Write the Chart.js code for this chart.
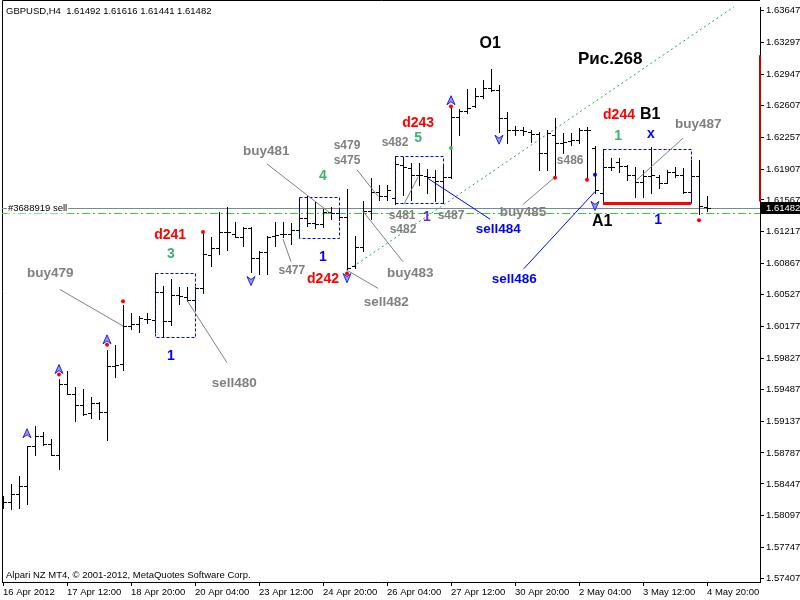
<!DOCTYPE html>
<html>
<head>
<meta charset="utf-8">
<script src="https://cdn.jsdelivr.net/npm/chart.js@4.4.1/dist/chart.umd.min.js"></script>
<style>
  html, body { margin: 0; padding: 0; background: #fff; }
</style>
</head>
<body>
<canvas id="chart" width="800" height="600"></canvas>
<script>
// GBPUSD H4, bars from 16 Apr 2012 04:00 to 4 May 2012 20:00 (index 0..88)
const opens = [
  1.58260, 1.58249, 1.58336, 1.58423, 1.58868, 1.58977, 1.58890, 1.58770, 1.59541, 1.59433,
  1.59313, 1.59227, 1.59335, 1.59237, 1.59748, 1.59770, 1.60182, 1.60204, 1.60258, 1.60247,
  1.60551, 1.60237, 1.60519, 1.60497, 1.60465, 1.60595, 1.60964, 1.61040, 1.61214, 1.61192,
  1.61160, 1.61257, 1.60932, 1.60997, 1.61170, 1.61192, 1.61192, 1.61236, 1.61366, 1.61312,
  1.61301, 1.61431, 1.61420, 1.61377, 1.60845, 1.61051, 1.61442, 1.61659, 1.61616, 1.61594,
  1.61952, 1.61920, 1.61844, 1.61833, 1.61822, 1.61779, 1.61822, 1.62474, 1.62550, 1.62604,
  1.62713, 1.62800, 1.62778, 1.62463, 1.62333, 1.62333, 1.62311, 1.62289, 1.62083, 1.62278,
  1.62191, 1.62213, 1.62224, 1.62333, 1.62137, 1.61648, 1.61931, 1.61985, 1.61941, 1.61844,
  1.61768, 1.61833, 1.61822, 1.61757, 1.61876, 1.61844, 1.61659, 1.61833, 1.61492
];
const highs = [
  1.58314, 1.58445, 1.58532, 1.58868, 1.59085, 1.59020, 1.58944, 1.59596, 1.59683, 1.59509,
  1.59487, 1.59400, 1.59346, 1.59922, 1.59976, 1.60410, 1.60323, 1.60291, 1.60323, 1.60769,
  1.60627, 1.60704, 1.60606, 1.60606, 1.60606, 1.61192, 1.61160, 1.61431, 1.61485, 1.61323,
  1.61268, 1.61268, 1.61008, 1.61170, 1.61323, 1.61323, 1.61312, 1.61594, 1.61616, 1.61540,
  1.61464, 1.61485, 1.61464, 1.61692, 1.61170, 1.61551, 1.61811, 1.61735, 1.61735, 1.62050,
  1.62039, 1.61974, 1.61974, 1.61909, 1.61898, 1.61952, 1.62582, 1.62571, 1.62789, 1.62800,
  1.62886, 1.63006, 1.62832, 1.62539, 1.62376, 1.62365, 1.62333, 1.62311, 1.62333, 1.62463,
  1.62300, 1.62300, 1.62354, 1.62365, 1.62159, 1.62126, 1.62028, 1.62028, 1.61952, 1.61931,
  1.61898, 1.62148, 1.61844, 1.61898, 1.61931, 1.61920, 1.62007, 1.62007, 1.61616
];
const lows = [
  1.58184, 1.58173, 1.58184, 1.58227, 1.58770, 1.58879, 1.58770, 1.58608, 1.59433, 1.59140,
  1.59205, 1.59172, 1.59161, 1.58933, 1.59618, 1.59694, 1.60150, 1.60117, 1.60215, 1.60117,
  1.60074, 1.60193, 1.60421, 1.60454, 1.60367, 1.60541, 1.60845, 1.60975, 1.61018, 1.61160,
  1.61062, 1.60779, 1.60758, 1.60758, 1.61062, 1.61160, 1.61084, 1.61160, 1.61279, 1.61257,
  1.61268, 1.61355, 1.61344, 1.60812, 1.60823, 1.61008, 1.61355, 1.61572, 1.61572, 1.61518,
  1.61627, 1.61572, 1.61735, 1.61648, 1.61551, 1.61529, 1.61811, 1.62278, 1.62528, 1.62593,
  1.62691, 1.62767, 1.62311, 1.62191, 1.62278, 1.62278, 1.62202, 1.61898, 1.61898, 1.61811,
  1.62083, 1.62170, 1.62191, 1.61790, 1.61648, 1.61551, 1.61898, 1.61876, 1.61790, 1.61605,
  1.61605, 1.61648, 1.61703, 1.61757, 1.61822, 1.61648, 1.61540, 1.61409, 1.61441
];
const closes = [
  1.58249, 1.58336, 1.58423, 1.58868, 1.58977, 1.58890, 1.58770, 1.59541, 1.59433, 1.59313,
  1.59216, 1.59335, 1.59237, 1.59748, 1.59759, 1.60182, 1.60204, 1.60269, 1.60258, 1.60551,
  1.60237, 1.60519, 1.60508, 1.60465, 1.60595, 1.60975, 1.61040, 1.61214, 1.61214, 1.61160,
  1.61257, 1.60932, 1.60997, 1.61160, 1.61181, 1.61192, 1.61236, 1.61366, 1.61312, 1.61301,
  1.61431, 1.61420, 1.61377, 1.60823, 1.61051, 1.61442, 1.61659, 1.61616, 1.61681, 1.61963,
  1.61931, 1.61844, 1.61844, 1.61822, 1.61779, 1.61822, 1.62474, 1.62550, 1.62582, 1.62713,
  1.62800, 1.62778, 1.62463, 1.62333, 1.62333, 1.62322, 1.62289, 1.62083, 1.62300, 1.62191,
  1.62202, 1.62224, 1.62333, 1.62333, 1.61681, 1.61931, 1.61931, 1.61941, 1.61844, 1.61768,
  1.61833, 1.61844, 1.61757, 1.61876, 1.61844, 1.61659, 1.61833, 1.61496, 1.61482
];

// axis ticks
const xTickIdx = [0, 8, 16, 24, 32, 40, 48, 56, 64, 72, 80, 88];
const xTickLabels = ['16 Apr 2012', '17 Apr 12:00', '18 Apr 20:00', '20 Apr 04:00', '23 Apr 12:00',
  '24 Apr 20:00', '26 Apr 04:00', '27 Apr 12:00', '30 Apr 20:00', '2 May 04:00', '3 May 12:00', '4 May 20:00'];
const yTickVals = [1.63647, 1.63297, 1.62947, 1.62607, 1.62257, 1.61907, 1.61567, 1.61217, 1.60867, 1.60527,
  1.60177, 1.59827, 1.59487, 1.59137, 1.58787, 1.58447, 1.58097, 1.57747, 1.57407];

// levels
const orderLevel = 1.61474;   // #3688919 sell
const stopLevel = 1.61420;    // green dash-dot
const rangeMark = [1.63158, 1.61551]; // red mark on price scale

// chart objects: [text, bar, price, colour, size]
const RED = '#ff0000', GRN = '#3cb371', BLU = '#0000ff', GRY = '#808080', VIO = '#6a2bd9', BLK = '#000000';
const textLabels = [
  ['O1', 60.9, 1.63290, BLK, 16], ['Рис.268', 75.9, 1.63115, BLK, 17],
  ['d243', 51.9, 1.62410, RED, 14], ['5', 51.9, 1.62245, GRN, 14],
  ['d241', 20.9, 1.61180, RED, 14], ['3', 21, 1.60970, GRN, 14],
  ['buy479', 5.9, 1.60760, GRY, 13.5], ['1', 21, 1.59850, BLU, 14],
  ['sell480', 28.9, 1.59550, GRY, 13.5], ['buy481', 32.9, 1.62100, GRY, 13.5],
  ['4', 40, 1.61830, GRN, 14], ['1', 40, 1.60940, BLU, 14],
  ['s477', 36.1, 1.60790, GRY, 12], ['d242', 40, 1.60700, RED, 14],
  ['sell482', 47.9, 1.60445, GRY, 13.5], ['buy483', 50.9, 1.60760, GRY, 13.5],
  ['s479', 43, 1.62160, GRY, 12], ['s475', 43, 1.61997, GRY, 12],
  ['s482', 49, 1.62192, GRY, 12], ['s481', 49.9, 1.61389, GRY, 12],
  ['1', 53, 1.61380, VIO, 14], ['s487', 56, 1.61389, GRY, 12],
  ['s482', 50, 1.61237, GRY, 12], ['sell484', 61.9, 1.61240, BLU, 13.5],
  ['buy485', 65, 1.61435, GRY, 13.5], ['s486', 70.9, 1.61997, GRY, 12],
  ['sell486', 63.9, 1.60697, BLU, 13.5], ['A1', 74.9, 1.61330, BLK, 16],
  ['1', 81.9, 1.61340, BLU, 14], ['d244', 77, 1.62495, RED, 14],
  ['B1', 80.9, 1.62505, BLK, 16], ['1', 76.9, 1.62265, GRN, 14],
  ['x', 81, 1.62295, BLU, 14], ['buy487', 86.9, 1.62400, GRY, 13.5]
];
// trend lines: [bar1, price1, bar2, price2, colour]
const trendLines = [
  [7.1, 1.60584, 15, 1.60182, GRY], [23, 1.60465, 28, 1.59780, GRY],
  [33, 1.61963, 41.1, 1.61409, GRY], [35, 1.61138, 36, 1.60888, GRY],
  [44.25, 1.61898, 46.9, 1.61605, GRY], [45, 1.61442, 50, 1.60888, GRY],
  [42.9, 1.60801, 46.9, 1.60595, GRY], [50.1, 1.61518, 51.9, 1.61822, GRY],
  [65, 1.61518, 68.9, 1.61811, GRY], [79.25, 1.61790, 85, 1.62246, GRY],
  [53, 1.61811, 60.9, 1.61355, BLU], [65.1, 1.60812, 74, 1.61659, BLU]
];
// dotted channel ray
const channelRay = [43.75, 1.60834, 87.75, 1.63473];
// dashed boxes: [bar1, bar2, top, bottom]
const boxes = [
  [19, 24, 1.60769, 1.60063], [37, 42, 1.61605, 1.61149],
  [49, 55, 1.62050, 1.61529], [75, 86, 1.62126, 1.61529]
];
const redBase = [75, 86, 1.61529];
// arrows: [bar, price, up]
const arrows = [
  [3, 1.58998, true], [7, 1.59704, true], [13, 1.60030, true], [56, 1.62658, true],
  [31, 1.60682, false], [43, 1.60714, false], [62, 1.62235, false], [74, 1.61507, false]
];
// dots: [bar, price, colour]
const dots = [
  [7, 1.59650, RED], [13, 1.59976, RED], [15, 1.60454, RED], [25, 1.61214, RED],
  [43, 1.60758, RED], [56, 1.62593, RED], [69, 1.61811, RED], [73, 1.61790, RED],
  [87, 1.61344, RED], [56, 1.62137, GRN], [74, 1.61844, BLU]
];

const FONT = '"Liberation Sans", Arial, sans-serif';

// Draws the OHLC bars and all chart objects on top of the scales
const mtPlugin = {
  id: 'mtOverlay',
  afterDraw(chart) {
    const { ctx, chartArea: a } = chart;
    const xs = chart.scales.x, ys = chart.scales.y;
    const px = k => xs.getPixelForValue(k);
    const py = p => ys.getPixelForValue(p);
    const crisp = v => Math.round(v) + 0.5;

    ctx.save();

    // frame (left and top)
    ctx.strokeStyle = '#000';
    ctx.lineWidth = 1;
    ctx.beginPath();
    ctx.moveTo(a.left + 0.5, a.bottom);
    ctx.lineTo(a.left + 0.5, 0.5);
    ctx.lineTo(a.right, 0.5);
    ctx.stroke();

    ctx.save();
    ctx.beginPath();
    ctx.rect(a.left, a.top - 1, a.right - a.left, a.bottom - a.top + 1);
    ctx.clip();

    // order line and stop line
    ctx.strokeStyle = '#778899';
    ctx.beginPath();
    ctx.moveTo(a.left, crisp(py(orderLevel)));
    ctx.lineTo(a.right, crisp(py(orderLevel)));
    ctx.stroke();
    ctx.strokeStyle = '#32cd32';
    ctx.setLineDash([8, 3, 2, 3]);
    ctx.beginPath();
    ctx.moveTo(a.left, crisp(py(stopLevel)));
    ctx.lineTo(a.right, crisp(py(stopLevel)));
    ctx.stroke();
    ctx.setLineDash([]);

    // channel ray (dotted green)
    const rx1 = px(channelRay[0]), ry1 = py(channelRay[1]);
    const rx2 = px(channelRay[2]), ry2 = py(channelRay[3]);
    const slope = (ry2 - ry1) / (rx2 - rx1);
    ctx.strokeStyle = '#2e9e5b';
    ctx.setLineDash([2, 3]);
    ctx.beginPath();
    ctx.moveTo(rx1, ry1);
    ctx.lineTo(a.right, ry1 + slope * (a.right - rx1));
    ctx.stroke();
    ctx.setLineDash([]);

    // OHLC bars
    ctx.strokeStyle = '#000';
    ctx.lineWidth = 1;
    ctx.beginPath();
    for (let i = 0; i < opens.length; i++) {
      const cx = crisp(px(i));
      const hy = Math.round(py(highs[i])), ly = Math.round(py(lows[i]));
      ctx.moveTo(cx, hy);
      ctx.lineTo(cx, ly + 1);
      const oy = crisp(py(opens[i])), cy = crisp(py(closes[i]));
      ctx.moveTo(cx - 3.5, oy);
      ctx.lineTo(cx, oy);
      ctx.moveTo(cx, cy);
      ctx.lineTo(cx + 3.5, cy);
    }
    ctx.stroke();

    // dashed boxes
    ctx.strokeStyle = '#0000ff';
    ctx.setLineDash([3, 2]);
    boxes.forEach(b => {
      const x1 = crisp(px(b[0])), x2 = crisp(px(b[1]));
      const y1 = crisp(py(b[2])), y2 = crisp(py(b[3]));
      ctx.strokeRect(x1, y1, x2 - x1, y2 - y1);
    });
    ctx.setLineDash([]);

    // red base line
    ctx.strokeStyle = '#ff0000';
    ctx.lineWidth = 3;
    ctx.beginPath();
    ctx.moveTo(px(redBase[0]), py(redBase[2]));
    ctx.lineTo(px(redBase[1]), py(redBase[2]));
    ctx.stroke();

    // trend lines
    ctx.lineWidth = 1;
    trendLines.forEach(t => {
      ctx.strokeStyle = t[4];
      ctx.beginPath();
      ctx.moveTo(px(t[0]), py(t[1]));
      ctx.lineTo(px(t[2]), py(t[3]));
      ctx.stroke();
    });

    // dots
    dots.forEach(d => {
      ctx.fillStyle = d[2];
      ctx.beginPath();
      ctx.arc(px(d[0]), py(d[1]), 2, 0, Math.PI * 2);
      ctx.fill();
    });

    // arrows
    arrows.forEach(r => {
      const ax = px(r[0]), ay = py(r[1]);
      const s = r[2] ? 1 : -1;
      ctx.beginPath();
      ctx.moveTo(ax, ay - 5 * s);
      ctx.lineTo(ax + 4, ay + 4 * s);
      ctx.lineTo(ax, ay + 1 * s);
      ctx.lineTo(ax - 4, ay + 4 * s);
      ctx.closePath();
      ctx.fillStyle = '#9999ff';
      ctx.fill();
      ctx.strokeStyle = '#2020e0';
      ctx.lineWidth = 1;
      ctx.stroke();
    });

    // text objects
    ctx.textAlign = 'center';
    ctx.textBaseline = 'middle';
    textLabels.forEach(t => {
      ctx.font = 'bold ' + t[4] + 'px ' + FONT;
      ctx.fillStyle = t[3];
      ctx.fillText(t[0], px(t[1]), py(t[2]));
    });

    // order label
    ctx.font = '9.5px ' + FONT;
    ctx.textAlign = 'left';
    const oly = py(orderLevel);
    const olw = ctx.measureText('#3688919 sell').width;
    ctx.fillStyle = '#fff';
    ctx.fillRect(a.left + 5, oly - 5, olw + 2, 10);
    ctx.fillStyle = '#000';
    ctx.fillText('#3688919 sell', a.left + 6, oly);

    ctx.restore();

    // header and footer text
    ctx.font = '9.5px ' + FONT;
    ctx.fillStyle = '#000';
    ctx.textAlign = 'left';
    ctx.textBaseline = 'middle';
    const last = opens.length - 1;
    ctx.fillText('GBPUSD,H4  ' + opens[last].toFixed(5) + ' ' + highs[last].toFixed(5) + ' ' +
      lows[last].toFixed(5) + ' ' + closes[last].toFixed(5), a.left + 4, 11);
    ctx.fillText('Alpari NZ MT4, \u00a9 2001-2012, MetaQuotes Software Corp.', a.left + 4, 575);

    // red range mark on price scale
    ctx.strokeStyle = '#cc0000';
    ctx.lineWidth = 2;
    ctx.beginPath();
    ctx.moveTo(a.right, py(rangeMark[0]));
    ctx.lineTo(a.right, py(rangeMark[1]));
    ctx.stroke();

    // current price box
    const cy = Math.round(py(closes[last]));
    ctx.fillStyle = '#000';
    ctx.fillRect(a.right + 1, cy - 6, 800 - a.right - 1, 12);
    ctx.fillStyle = '#fff';
    ctx.fillText(closes[last].toFixed(5), a.right + 6, cy);

    ctx.restore();
  }
};

const axisFont = { family: FONT, size: 9.5 };

const mtChart = new Chart(document.getElementById('chart'), {
  type: 'scatter',
  data: {
    datasets: [{
      data: closes.map((c, i) => ({ x: i, y: c })),
      pointRadius: 0,
      showLine: false
    }]
  },
  options: {
    responsive: false,
    animation: false,
    devicePixelRatio: 1,
    layout: { padding: { left: 2, top: 1, right: 0, bottom: 0 } },
    plugins: {
      legend: { display: false },
      tooltip: { enabled: false }
    },
    scales: {
      x: {
        type: 'linear',
        min: -0.125,
        max: 94.625,
        afterFit: s => { s.height = 18; },
        afterBuildTicks: s => { s.ticks = xTickIdx.map(v => ({ value: v })); },
        ticks: {
          callback: (v, i) => xTickLabels[i],
          align: 'start',
          maxRotation: 0,
          autoSkip: false,
          color: '#000',
          font: axisFont,
          padding: 1
        },
        grid: { drawOnChartArea: false, drawTicks: true, tickLength: 4, tickColor: '#000' },
        border: { display: true, color: '#000' }
      },
      y: {
        type: 'linear',
        position: 'right',
        min: 1.57369,
        max: 1.63680,
        afterFit: s => { s.width = 40; },
        afterBuildTicks: s => { s.ticks = yTickVals.map(v => ({ value: v })); },
        ticks: {
          callback: v => v.toFixed(5),
          color: '#000',
          font: axisFont,
          padding: 2
        },
        grid: { drawOnChartArea: false, drawTicks: true, tickLength: 4, tickColor: '#000' },
        border: { display: true, color: '#000' }
      }
    }
  },
  plugins: [mtPlugin]
});
</script>
</body>
</html>
